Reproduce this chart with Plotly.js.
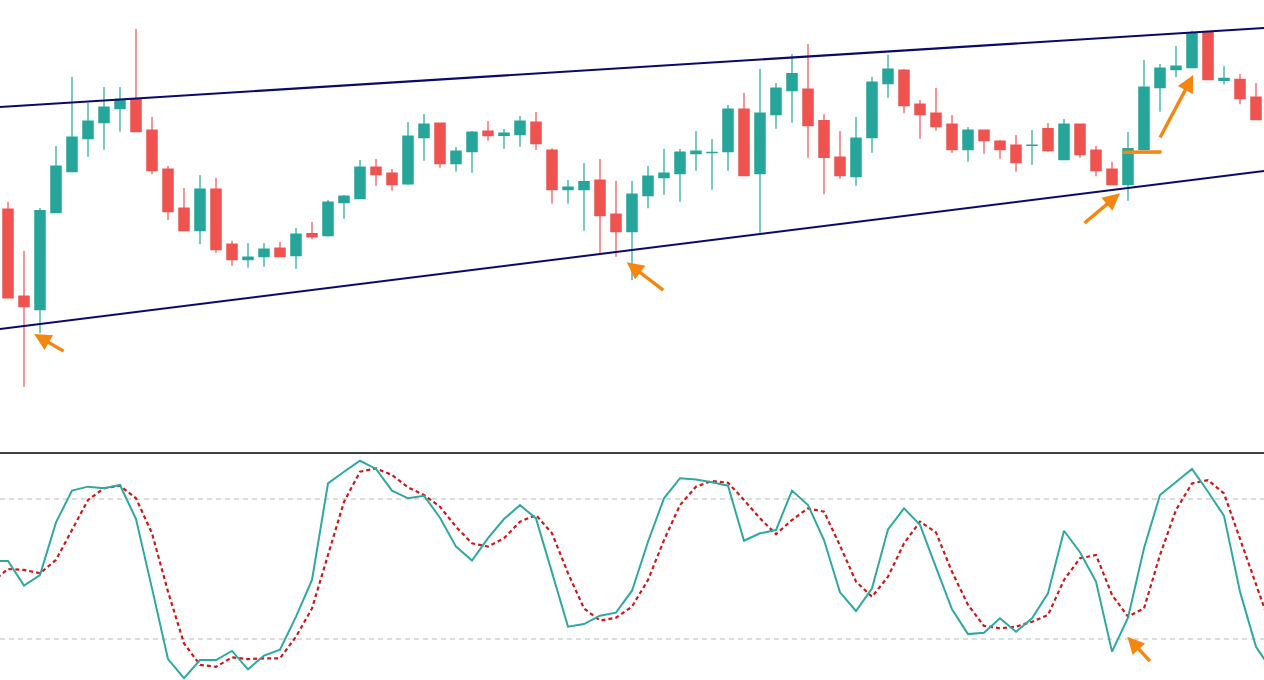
<!DOCTYPE html>
<html>
<head>
<meta charset="utf-8">
<script src="https://cdn.plot.ly/plotly-3.0.1.min.js"></script>
<style>html,body{margin:0;padding:0;background:#fff;}#chart{width:1264px;height:680px;}</style>
</head>
<body>
<div id="chart"></div>
<script>
// ---- Price data (candles 0..78) ----
const openP  = [129.1,120.4,119.03,128.73,132.83,136.13,137.73,139.13,140.07,137.0,133.1,129.2,126.93,131.1,125.6,124.03,124.33,125.2,124.43,126.63,126.43,129.73,130.13,133.3,132.7,131.6,136.23,137.7,133.63,134.83,136.9,136.47,136.53,137.8,135.0,131.03,131.03,132.0,128.6,126.83,130.43,132.23,132.63,134.63,134.73,134.83,139.1,132.63,138.53,140.93,141.1,137.93,134.3,132.33,136.23,141.63,143.0,139.6,138.7,137.6,135.03,137.0,135.9,135.5,135.45,137.13,134.03,137.6,135.0,133.1,131.53,135.03,141.23,143.03,143.23,146.73,141.97,142.07,140.3];
const highP  = [129.83,124.93,129.2,135.4,142.3,139.73,141.3,141.3,147.1,138.3,133.4,131.2,132.5,132.23,125.93,125.67,125.7,125.83,127.2,127.8,130.0,130.5,134.0,134.1,133.1,137.8,138.6,137.7,135.3,136.9,137.9,137.1,138.4,138.8,135.17,132.0,133.7,134.1,131.93,131.9,133.4,135.13,135.1,136.9,136.1,139.5,140.7,143.1,141.7,144.6,145.6,138.57,136.9,138.3,142.3,144.53,143.1,140.0,141.2,138.5,137.3,137.0,136.03,136.5,137.0,137.7,138.1,137.6,135.4,133.83,136.8,144.0,143.6,145.4,146.93,146.73,143.37,142.6,141.7];
const lowP   = [120.2,111.33,116.67,128.73,132.83,134.33,135.03,136.83,136.83,132.57,128.0,126.93,125.57,124.73,123.43,123.23,123.33,124.33,123.13,126.07,126.33,128.13,130.13,131.43,130.93,131.53,133.93,133.23,132.83,132.73,135.93,135.13,135.33,135.0,129.63,129.63,126.93,124.67,124.33,122.0,129.17,130.53,129.83,132.93,131.03,132.93,132.43,126.73,137.13,137.73,134.23,130.57,132.13,131.43,134.73,140.23,138.67,136.13,136.93,134.73,133.83,134.63,134.13,132.83,133.53,134.83,134.03,134.23,132.37,131.53,129.93,135.03,138.83,142.27,143.23,142.03,141.57,139.57,138.03];
const closeP = [120.2,119.33,128.93,133.4,136.3,137.9,139.3,140.07,136.83,132.93,128.83,126.93,131.1,125.03,124.03,124.3,125.1,124.33,126.6,126.3,129.8,130.4,133.3,132.53,131.53,136.4,137.6,133.63,134.9,136.8,136.43,136.7,137.9,135.63,131.03,131.3,131.83,128.43,126.83,130.6,132.4,132.7,134.8,134.9,134.77,139.1,132.43,138.7,141.2,142.63,137.43,134.27,132.43,136.2,141.8,143.1,139.43,138.53,137.33,135.03,137.0,135.93,135.03,133.73,135.48,134.93,137.6,134.53,132.93,131.53,135.13,141.3,143.2,143.4,146.73,142.03,142.17,140.13,138.03];

// ---- Stochastic oscillator (positions -1..79) ----
const stochK = [53.4,53.4,42.9,47.4,70.0,83.6,85.3,84.6,86.0,71.4,41.7,11.4,3.2,11.0,11.0,14.9,7.0,12.9,15.4,29.6,45.3,86.7,91.7,96.4,92.9,83.6,80.3,81.4,72.0,59.6,53.6,63.2,71.4,77.4,71.7,48.2,25.3,26.4,30.0,31.3,40.7,61.7,80.3,88.9,88.4,87.2,85.7,62.1,65.3,66.7,83.6,77.4,62.4,40.0,32.0,41.7,67.0,76.0,68.9,50.7,32.7,22.1,22.7,28.9,23.1,28.9,39.6,66.4,57.2,44.6,14.6,29.1,58.9,81.7,87.4,92.9,83.1,72.8,40.3,16.7,6.5];
const stochD = [44.4,50.0,49.6,48.2,53.9,66.7,79.6,84.6,85.7,80.3,65.3,40.3,18.1,8.9,8.1,12.1,11.4,11.7,11.7,21.0,33.1,56.0,78.8,91.7,93.1,90.3,85.0,81.7,76.7,68.1,61.0,59.6,63.2,70.3,73.1,65.3,48.2,33.1,27.9,29.1,33.9,45.3,62.4,77.4,85.3,87.7,87.0,79.6,71.7,64.9,71.0,76.0,74.6,60.0,44.6,38.1,46.7,61.0,70.3,65.7,48.8,34.6,25.6,24.6,25.3,27.4,30.3,45.3,54.6,56.0,38.9,29.6,33.1,56.0,75.3,86.7,88.1,82.4,63.2,43.1,24.0];

const candleIdx = openP.map((_, i) => i);
const stochIdx = stochK.map((_, i) => i - 1);

const teal = '#26a69a';
const red = '#ef5350';
const orange = '#f5860f';
const navy = '#0a0a6b';

const traces = [
  {
    type: 'candlestick', x: candleIdx, open: openP, high: highP, low: lowP, close: closeP,
    xaxis: 'x', yaxis: 'y',
    increasing: {line: {color: teal, width: 1.2}, fillcolor: teal},
    decreasing: {line: {color: red, width: 1.2}, fillcolor: red},
    whiskerwidth: 0, hoverinfo: 'skip'
  },
  {
    type: 'scatter', mode: 'lines', x: stochIdx, y: stochD, xaxis: 'x2', yaxis: 'y2',
    line: {color: '#cc1a1a', width: 2.2, dash: '4px,3px'}, hoverinfo: 'skip'
  },
  {
    type: 'scatter', mode: 'lines', x: stochIdx, y: stochK, xaxis: 'x2', yaxis: 'y2',
    line: {color: '#2fa9a0', width: 2}, hoverinfo: 'skip'
  }
];

const sepY = (680 - 453) / 680;

const shapes = [
  // channel lines
  {type: 'line', xref: 'x', yref: 'y', x0: -0.5, x1: 78.5, y0: 139.3, y1: 147.2, line: {color: navy, width: 2}},
  {type: 'line', xref: 'x', yref: 'y', x0: -0.5, x1: 78.5, y0: 117.1, y1: 132.9, line: {color: navy, width: 2}},
  // breakout level
  {type: 'line', xref: 'x', yref: 'y', x0: 69.7, x1: 72.1, y0: 134.77, y1: 134.8, line: {color: orange, width: 3.5}},
  // panel separator
  {type: 'line', xref: 'paper', yref: 'paper', x0: 0, x1: 1, y0: sepY, y1: sepY, line: {color: '#000', width: 1.3}},
  // stochastic levels
  {type: 'line', xref: 'paper', yref: 'y2', x0: 0, x1: 1, y0: 80, y1: 80, line: {color: '#bbbbbb', width: 1, dash: '5px,4px'}, layer: 'below'},
  {type: 'line', xref: 'paper', yref: 'y2', x0: 0, x1: 1, y0: 20, y1: 20, line: {color: '#bbbbbb', width: 1, dash: '5px,4px'}, layer: 'below'}
];

function arrow(xref, yref, x, y, ax, ay) {
  return {xref: xref, yref: yref, x: x, y: y, ax: ax, ay: ay, text: '', showarrow: true,
    arrowhead: 2, arrowsize: 1, arrowwidth: 3.4, arrowcolor: orange, standoff: 0};
}

const annotations = [
  arrow('x', 'y', 1.63, 116.6, 31, 18),
  arrow('x', 'y', 38.67, 123.77, 38, 29),
  arrow('x', 'y', 69.5, 130.67, -37, 31),
  arrow('x', 'y', 74.08, 142.5, -34, 64),
  arrow('x2', 'y2', 69.96, 21.0, 24, 26)
];

const hiddenX = {range: [-0.5, 78.5], visible: false, showgrid: false, zeroline: false, fixedrange: true};

const layout = {
  width: 1264, height: 680,
  margin: {l: 0, r: 0, t: 0, b: 0, pad: 0},
  paper_bgcolor: '#ffffff', plot_bgcolor: '#ffffff',
  showlegend: false, hovermode: false,
  boxgap: 0.36, boxgroupgap: 0,
  xaxis: Object.assign({}, hiddenX, {anchor: 'y', rangeslider: {visible: false}}),
  xaxis2: Object.assign({}, hiddenX, {anchor: 'y2'}),
  yaxis: {domain: [sepY, 1], range: [104.7, 150], visible: false, showgrid: false, zeroline: false, fixedrange: true},
  yaxis2: {domain: [0, 226 / 680], range: [2.43, 99.29], visible: false, showgrid: false, zeroline: false, fixedrange: true},
  shapes: shapes,
  annotations: annotations
};

Plotly.newPlot('chart', traces, layout, {staticPlot: true, displayModeBar: false});
</script>
</body>
</html>
